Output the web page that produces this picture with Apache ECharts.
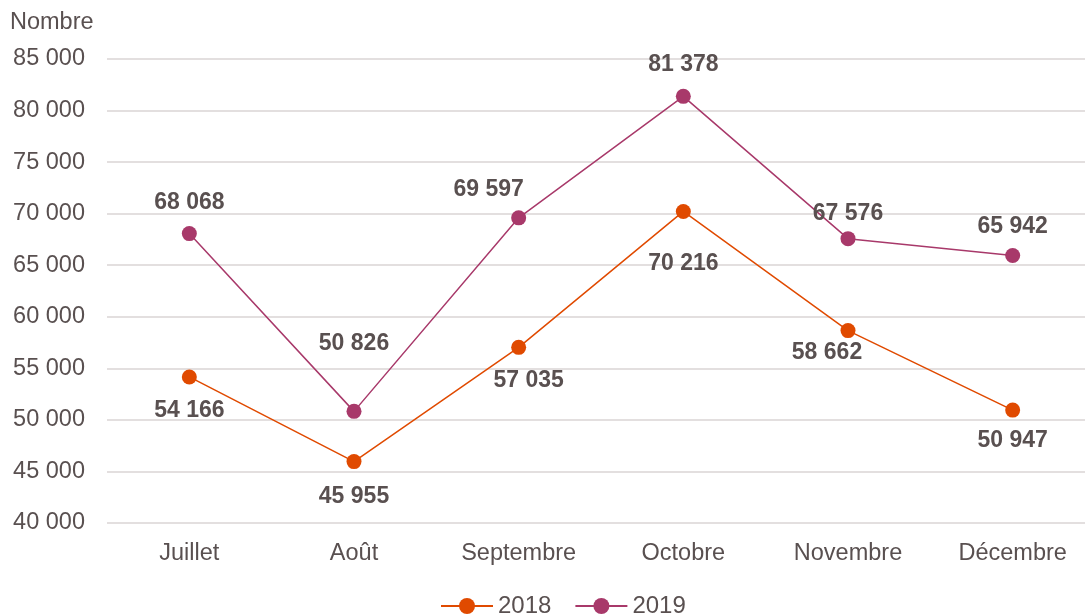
<!DOCTYPE html>
<html>
<head>
<meta charset="utf-8">
<script src="https://cdn.jsdelivr.net/npm/echarts@6/dist/echarts.min.js"></script>
<style>
  html, body { margin: 0; padding: 0; background: #fff; }
  #chart { width: 1085px; height: 616px; }
</style>
</head>
<body>
<div id="chart"></div>
<script>
const months = ["Juillet", "Août", "Septembre", "Octobre", "Novembre", "Décembre"];
const values2018 = [54166, 45955, 57035, 70216, 58662, 50947];
const values2019 = [68068, 50826, 69597, 81378, 67576, 65942];

// label offsets from the point centre, [dx, dy]
const offsets2018 = [[0, 34], [0, 35], [10, 33], [0, 52], [-21, 22], [0, 31]];
const offsets2019 = [[0, -31], [0, -68], [-30, -28], [0, -32], [0, -25], [0, -29]];

const textColor = "#595050";

function fmt(v) {
  return String(v).replace(/\B(?=(\d{3})+(?!\d))/g, " ");
}

function makeData(values, offsets) {
  return values.map(function (v, i) {
    return { value: v, label: { offset: offsets[i] } };
  });
}

window.addEventListener("load", function () {
  const myChart = echarts.init(document.getElementById("chart"));

  const labelStyle = {
    show: true,
    position: "inside",
    color: textColor,
    fontSize: 23,
    fontWeight: "bold",
    fontFamily: "Liberation Sans, Arial, sans-serif",
    formatter: function (p) { return fmt(p.value); },
  };

  const option = {
    animation: false,
    textStyle: { fontFamily: "Liberation Sans, Arial, sans-serif" },
    grid: { left: 107, width: 988, top: 59, bottom: 93, outerBoundsMode: "none" },
    legend: {
      top: 589,
      left: 435,
      itemWidth: 52,
      itemHeight: 20,
      itemGap: 23,
      textStyle: { color: textColor, fontSize: 24 },
      data: ["2018", "2019"],
    },
    xAxis: {
      type: "category",
      data: months,
      axisLine: { show: false },
      axisTick: { show: false },
      axisLabel: { color: textColor, fontSize: 23.5, margin: 19 },
    },
    yAxis: {
      type: "value",
      min: 40000,
      max: 85000,
      interval: 5000,
      name: "Nombre",
      nameLocation: "end",
      nameGap: 24,
      nameTextStyle: { color: textColor, fontSize: 23.5, align: "left", padding: [0, 0, 0, -97] },
      axisLine: { show: false },
      axisTick: { show: false },
      axisLabel: { color: textColor, fontSize: 23.5, margin: 22, formatter: fmt },
      splitLine: { lineStyle: { color: "#e3dfdf", width: 2 } },
    },
    series: [
      {
        name: "2018",
        type: "line",
        data: makeData(values2018, offsets2018),
        symbol: "circle",
        symbolSize: 15,
        itemStyle: { color: "#e04a00" },
        lineStyle: { color: "#e04a00", width: 1.5 },
        label: labelStyle,
        z: 3,
      },
      {
        name: "2019",
        type: "line",
        data: makeData(values2019, offsets2019),
        symbol: "circle",
        symbolSize: 15,
        itemStyle: { color: "#a8396a" },
        lineStyle: { color: "#a8396a", width: 1.5 },
        label: labelStyle,
        z: 2,
      },
    ],
  };
  myChart.setOption(option);
});
</script>
</body>
</html>
